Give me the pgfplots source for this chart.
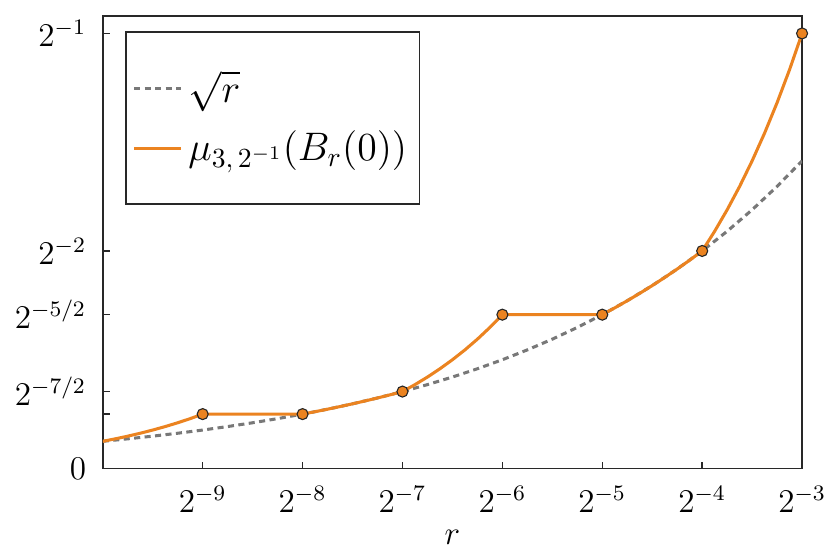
\documentclass[border=0pt]{standalone}
\usepackage{pgfplots}
\pgfplotsset{compat=1.18}
\definecolor{morange}{RGB}{235,131,32}
\definecolor{mgray}{RGB}{120,120,120}
\definecolor{spine}{RGB}{40,40,40}
\begin{document}
\begin{tikzpicture}
\begin{axis}[
  scale only axis, width=253pt, height=163.7pt,
  xmode=log, log basis x=2,
  xmin=0.0009765625, xmax=0.125,
  ymin=0, ymax=0.52,
  axis line style={spine, line width=0.6pt},
  xtick={0.001953125,0.00390625,0.0078125,0.015625,0.03125,0.0625,0.125},
  xticklabels={$2^{-9}$,$2^{-8}$,$2^{-7}$,$2^{-6}$,$2^{-5}$,$2^{-4}$,$2^{-3}$},
  ytick={0,0.0625,0.0883883,0.176777,0.25,0.5},
  yticklabels={$0$,{},$2^{-7/2}$,$2^{-5/2}$,$2^{-2}$,$2^{-1}$},
  minor tick num=0,
  tick align=inside, tick pos=left,
  major tick length=2.5pt,
  tick style={spine, line width=0.5pt},
  ticklabel style={font=\fontsize{11.8}{13}\selectfont},
  xticklabel style={yshift=-3pt},
  yticklabel style={xshift=-2.5pt},
  xlabel={$r$}, xlabel style={font=\fontsize{12.5}{14}\selectfont, yshift=0.5pt},
  clip mode=individual,
  legend cell align=left,
  legend style={at={(0.0316,0.967)}, anchor=north west, draw=spine, line width=0.6pt,
    font=\fontsize{14}{17}\selectfont, inner xsep=2.5pt, inner ysep=12pt, row sep=5pt},
]
\addplot[mgray, line width=1.1pt, dash pattern=on 2.2pt off 1.6pt] coordinates {
(0.0009765625,0.03125) (0.00116134,0.0340784) (0.00138107,0.0371627) (0.00164238,0.0405263)
(0.001953125,0.0441942) (0.00232267,0.0481941) (0.00276214,0.0525560) (0.00328475,0.0573128)
(0.00390625,0.0625) (0.00464534,0.0681568) (0.00552427,0.0743254) (0.00656950,0.0810525)
(0.0078125,0.0883883) (0.00929068,0.0963883) (0.0110485,0.105112) (0.0131390,0.114626)
(0.015625,0.125) (0.0185814,0.136313) (0.0220971,0.148651) (0.0262780,0.162105)
(0.03125,0.176777) (0.0371627,0.192777) (0.0441942,0.210224) (0.0525560,0.229251)
(0.0625,0.25) (0.0743254,0.272627) (0.0883883,0.297302) (0.105112,0.324210)
(0.125,0.353553)
};
\addlegendentry{$\sqrt{r}$}
\addplot[morange, line width=1.1pt] coordinates {
(0.0009765625,0.03125) (0.00106495,0.0340784) (0.00116134,0.0371627) (0.00126645,0.0405263)
(0.00138107,0.0441942) (0.00150607,0.0481941) (0.00164238,0.0525560) (0.00179102,0.0573128)
(0.001953125,0.0625)
(0.00390625,0.0625) (0.00425979,0.0652671) (0.00464534,0.0681568) (0.00506578,0.0711743)
(0.00552427,0.0743254) (0.00602427,0.0776161) (0.00656950,0.0810525) (0.00716404,0.0846410)
(0.0078125,0.0883883) (0.00851959,0.0963883) (0.00929068,0.105112) (0.0101316,0.114626)
(0.0110485,0.125) (0.0120485,0.136313) (0.0131390,0.148651) (0.0143282,0.162105)
(0.015625,0.176777)
(0.03125,0.176777) (0.0340784,0.184604) (0.0371627,0.192777) (0.0405263,0.201312)
(0.0441942,0.210224) (0.0481941,0.219532) (0.0525560,0.229251) (0.0573128,0.239401)
(0.0625,0.25) (0.0681568,0.272627) (0.0743254,0.297302) (0.0810525,0.324210)
(0.0883883,0.353553) (0.0963883,0.385553) (0.105112,0.420448) (0.114626,0.458502)
(0.125,0.5)
};
\addlegendentry{$\mu_{3,\,2^{-1}}(B_r(0))$}
\addplot[only marks, mark=*, mark size=2pt, mark options={fill=morange, draw=black!85, line width=0.4pt}, forget plot] coordinates {
(0.001953125,0.0625) (0.00390625,0.0625) (0.0078125,0.0883883) (0.015625,0.176777)
(0.03125,0.176777) (0.0625,0.25) (0.125,0.5)
};
\end{axis}
\pgfresetboundingbox
\path ([xshift=-37.2pt,yshift=-30.7pt]current axis.south west) rectangle ([xshift=10.1pt,yshift=5.8pt]current axis.north east);
\end{tikzpicture}
\end{document}
